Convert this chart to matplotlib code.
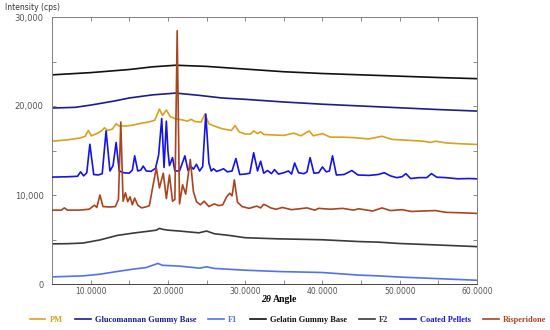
import numpy as np
import matplotlib.pyplot as plt
from matplotlib.ticker import MultipleLocator, FuncFormatter

# series as (2theta, intensity) points
pm = [(5, 16050), (7, 16200), (8.6, 16400), (9.3, 16600), (9.7, 17250), (10.1, 16650),
      (10.8, 16900), (11.4, 17200), (11.8, 17550), (12.2, 17250), (12.8, 17400), (13.3, 18000),
      (13.7, 17750), (14.5, 17750), (15.5, 17850), (16.5, 18050), (17.5, 18200), (18.3, 18400),
      (18.9, 19650), (19.3, 18950), (19.8, 19550), (20.3, 18800), (21.0, 18550), (21.8, 18450),
      (22.5, 18300), (23.0, 18500), (23.5, 18250), (24.3, 18200), (24.8, 19100), (25.3, 18000),
      (26.0, 17750), (27.0, 17450), (28.2, 17250), (28.7, 17800), (29.2, 17100), (30.0, 16850),
      (30.7, 16850), (31.1, 17200), (31.6, 16900), (32.0, 17100), (32.4, 16800), (33.5, 16750),
      (35.0, 16700), (36.3, 16950), (37.2, 16650), (38.3, 17200), (38.8, 16650), (40.0, 16900),
      (41.0, 16500), (42.5, 16500), (44.0, 16450), (46.0, 16300), (47.7, 16600), (49, 16250),
      (51, 16150), (53, 16050), (54, 15900), (54.6, 16050), (56, 15850), (58, 15750), (60, 15680)]

glucomannan = [(5, 19770), (8, 19850), (10, 20100), (13, 20550), (15, 20900), (18, 21250),
               (21, 21450), (24, 21200), (27, 20900), (30, 20750), (35, 20450), (40, 20200),
               (45, 20000), (50, 19800), (55, 19600), (60, 19430)]

f1 = [(5, 800), (9, 910), (11.2, 1100), (13.4, 1400), (15.5, 1670), (17.2, 1850), (18.7, 2310),
      (19.3, 2100), (21.5, 2010), (24.1, 1780), (25, 1930), (26, 1750), (30, 1550), (34.4, 1400),
      (40, 1290), (44.7, 1000), (47.3, 910), (50, 780), (55, 600), (60, 420)]

gelatin = [(5, 23500), (10, 23750), (15, 24100), (18, 24400), (21, 24580), (25, 24450),
           (30, 24150), (35, 23850), (40, 23650), (45, 23500), (50, 23350), (55, 23200), (60, 23070)]

f2 = [(5, 4510), (7, 4530), (9, 4600), (11.2, 4950), (13.4, 5450), (15.5, 5720), (17.2, 5900),
      (18.5, 6050), (18.9, 6250), (19.3, 6150), (20, 6050), (21.5, 5950), (24, 5750), (25, 5950),
      (26, 5650), (28, 5450), (30, 5200), (34, 5080), (40, 4970), (44.7, 4770), (47.3, 4700),
      (50, 4550), (55, 4380), (60, 4200)]

coated_pellets = [(5, 12010), (7, 12050), (8.3, 12100), (8.7, 12600), (9.1, 12150), (9.5, 12500),
                  (9.9, 15700), (10.4, 12300), (11.0, 12250), (11.5, 12400), (12.0, 17200),
                  (12.5, 12700), (12.9, 13300), (13.3, 15900), (13.7, 12700), (14.3, 12500),
                  (15.0, 12450), (15.4, 12800), (15.7, 14400), (16.1, 12700), (16.5, 12800),
                  (16.8, 13250), (17.2, 12700), (17.8, 12650), (18.4, 13000), (18.8, 14500),
                  (19.2, 18600), (19.5, 13100), (19.8, 18300), (20.0, 15000), (20.2, 13300),
                  (20.6, 14200), (20.9, 12700), (21.5, 12700), (22.2, 14400), (22.6, 12750),
                  (23.0, 13200), (23.3, 12900), (23.7, 13450), (24.1, 12700), (24.5, 13200),
                  (24.9, 19100), (25.3, 13600), (25.6, 12700), (25.9, 12950), (26.3, 12650),
                  (26.8, 12800), (27.2, 12950), (27.7, 12600), (28.3, 12700), (28.8, 14100),
                  (29.3, 12300), (30.0, 12350), (30.6, 12450), (31.1, 14750), (31.6, 12700),
                  (32.0, 13800), (32.4, 12450), (32.9, 12750), (33.4, 12400), (33.8, 12850),
                  (34.3, 12350), (35.0, 12500), (35.6, 12700), (36.0, 12350), (36.4, 13600),
                  (36.9, 12500), (37.6, 12400), (38.0, 12600), (38.4, 14200), (38.9, 12450),
                  (39.5, 12500), (40.0, 13150), (40.5, 12600), (40.9, 12700), (41.3, 14400),
                  (41.8, 12250), (42.8, 12300), (43.8, 12750), (44.6, 12250), (46.0, 12200),
                  (47.2, 12300), (48.0, 12500), (48.8, 12150), (49.6, 11950), (50.3, 12050),
                  (50.8, 12400), (51.4, 11850), (52.5, 11950), (53.5, 11950), (54.1, 12400),
                  (54.8, 12000), (56, 11950), (57.5, 11820), (59, 11850), (60, 11820)]

risperidone = [(5, 8300), (6.2, 8300), (6.6, 8550), (7.0, 8300), (8.5, 8300), (9.8, 8400),
               (10.5, 8850), (10.8, 8600), (11.2, 10000), (11.6, 8700), (12.5, 8650), (13.2, 8700),
               (13.6, 9500), (13.9, 18200), (14.2, 9300), (14.5, 10250), (14.8, 9250), (15.1, 9800),
               (15.4, 8900), (15.7, 9650), (16.1, 8850), (16.6, 8550), (17.1, 8650), (17.6, 8800),
               (18.1, 11200), (18.5, 13050), (18.9, 10800), (19.4, 12450), (19.8, 9600),
               (20.2, 12250), (20.6, 9300), (20.9, 9500), (21.2, 28450), (21.5, 9000),
               (21.9, 11150), (22.3, 10100), (22.9, 14000), (23.3, 10400), (23.7, 9250),
               (24.2, 8900), (24.7, 9300), (25.3, 8700), (26.0, 9000), (26.6, 8800), (27.1, 8900),
               (27.6, 9800), (28.0, 10200), (28.3, 9900), (28.6, 11700), (29.0, 9200), (29.6, 8700),
               (30.5, 8500), (31.5, 8750), (32.0, 8550), (32.4, 8950), (32.8, 8800), (33.3, 8550),
               (34.0, 8400), (34.8, 8600), (36.0, 8350), (37.0, 8450), (38.0, 8550), (39.0, 8300),
               (39.5, 8500), (41.0, 8400), (42.6, 8500), (44.0, 8300), (44.7, 8450), (46.5, 8200),
               (47.7, 8550), (48.8, 8250), (50.3, 8350), (51.5, 8150), (53.0, 8200), (54.6, 8250),
               (56, 8050), (58, 8000), (60, 7930)]

# legend order, colours
names = ["PM", "Glucomannan Gummy Base", "F1", "Gelatin Gummy Base", "F2",
         "Coated Pellets", "Risperidone"]
series = [pm, glucomannan, f1, gelatin, f2, coated_pellets, risperidone]
colors = ["#d9a11c", "#1c1c8c", "#5272ec", "#111111", "#3a3a3a", "#1414e6", "#a8451f"]
# drawing order (risperidone on top)
zorders = [2, 2, 2, 2, 2, 3, 4]


def main():
    plt.rcParams['font.family'] = ['DejaVu Sans']
    fig = plt.figure(figsize=(5.5, 3.3), dpi=100)
    ax = fig.add_axes([52 / 550, 46 / 330, 425 / 550, 267 / 330])

    handles = []
    for name, pts, c, z in zip(names, series, colors, zorders):
        xy = np.array(pts, dtype=float)
        h, = ax.plot(xy[:, 0], xy[:, 1], color=c, lw=1.2, zorder=z, label=name)
        handles.append(h)

    ax.set_xlim(5, 60)
    ax.set_ylim(0, 30000)

    # ticks
    ax.xaxis.set_major_locator(MultipleLocator(10))
    ax.xaxis.set_minor_locator(MultipleLocator(5))
    ax.yaxis.set_major_locator(MultipleLocator(10000))
    ax.yaxis.set_minor_locator(MultipleLocator(5000))
    ax.xaxis.set_major_formatter(FuncFormatter(lambda v, p: "" if v < 9 else "%.4f" % v))
    ax.yaxis.set_major_formatter(FuncFormatter(lambda v, p: "{:,}".format(int(v))))
    ax.tick_params(which='both', direction='in', top=True, right=True, color='#777777',
                   width=0.6, length=3)
    ax.tick_params(axis='x', labelsize=5.5, labelcolor='#555555', pad=2)
    ax.tick_params(axis='y', labelsize=6, labelcolor='#555555', pad=6)
    for s in ax.spines.values():
        s.set_color('#808080')
        s.set_linewidth(0.7)
    ax.spines['bottom'].set_color('#444444')

    # axis titles
    fig.text(5 / 550, 1 - 7 / 330, "Intensity (cps)", fontsize=5.5, color='#333333',
             va='center', ha='left')
    fig.text(271 / 550, 1 - 300 / 330, "2θ", fontsize=7, family='Liberation Serif',
             weight='bold', style='italic', ha='right', va='center')
    fig.text(273 / 550, 1 - 300 / 330, "Angle", fontsize=7, family='Liberation Serif',
             weight='bold', ha='left', va='center')

    # legend
    leg = fig.legend(handles=handles, loc='center', bbox_to_anchor=(288 / 550, 1 - 320 / 330),
                     ncol=7, frameon=False, handlelength=1.9, handletextpad=0.5,
                     columnspacing=1.45, prop={'family': 'Liberation Serif', 'weight': 'bold',
                                               'size': 6})
    for t, c in zip(leg.get_texts(), colors):
        t.set_color(c)

    fig.savefig("out.png", dpi=100)


if __name__ == "__main__":
    main()
